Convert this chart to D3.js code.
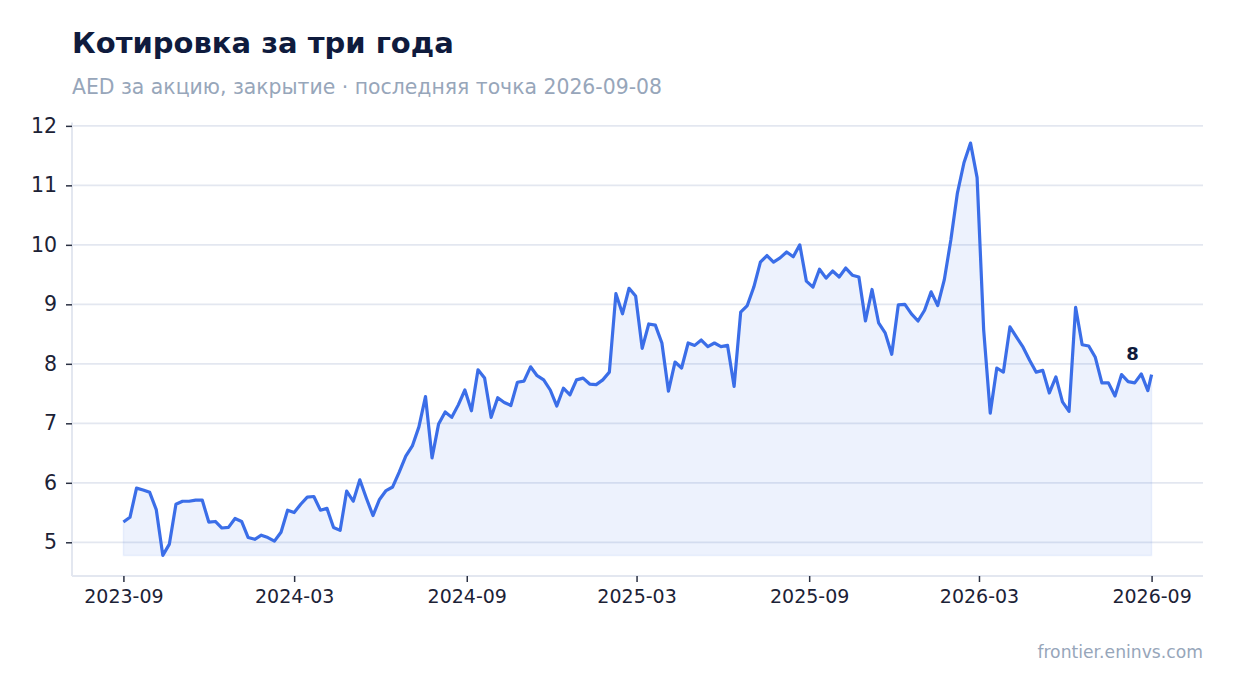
<!DOCTYPE html>
<html>
<head>
<meta charset="utf-8">
<script src="https://cdn.jsdelivr.net/npm/d3@7"></script>
<style>
  body { margin: 0; background: #ffffff; }
</style>
</head>
<body>
<div id="chart"></div>
<script>
// Chart data

var titleText = "Котировка за три года";
var subtitleText = "AED за акцию, закрытие · последняя точка 2026-09-08";
var sourceText = "frontier.eninvs.com";

// weekly closes from the first date, the last one is the final close
var firstDate = "2023-09-08";
var lastDate = "2026-09-08";

var closePrices = [
  5.34, 5.42, 5.91, 5.88, 5.84, 5.55, 4.78, 4.97, 5.64, 5.69,
  5.69, 5.71, 5.71, 5.34, 5.35, 5.24, 5.25, 5.40, 5.35, 5.08,
  5.05, 5.12, 5.08, 5.02, 5.17, 5.54, 5.50, 5.64, 5.76, 5.77,
  5.54, 5.57, 5.25, 5.20, 5.86, 5.69, 6.05, 5.74, 5.45, 5.72,
  5.87, 5.93, 6.18, 6.45, 6.62, 6.94, 7.45, 6.42, 6.99, 7.19,
  7.10, 7.31, 7.56, 7.21, 7.90, 7.76, 7.10, 7.43, 7.35, 7.30,
  7.69, 7.71, 7.95, 7.80, 7.73, 7.56, 7.29, 7.59, 7.48, 7.73,
  7.76, 7.66, 7.65, 7.73, 7.86, 9.18, 8.84, 9.27, 9.14, 8.26,
  8.67, 8.65, 8.35, 7.54, 8.03, 7.93, 8.35, 8.31, 8.40, 8.29,
  8.35, 8.29, 8.31, 7.62, 8.87, 8.98, 9.29, 9.71, 9.82, 9.71,
  9.78, 9.88, 9.80, 10.00, 9.39, 9.29, 9.59, 9.44, 9.56, 9.46,
  9.61, 9.49, 9.46, 8.72, 9.25, 8.69, 8.52, 8.16, 8.99, 9.00,
  8.84, 8.72, 8.90, 9.21, 8.98, 9.41, 10.08, 10.87, 11.38, 11.71,
  11.13, 8.57, 7.17, 7.93, 7.86, 8.62, 8.45, 8.28, 8.06, 7.86,
  7.89, 7.51, 7.78, 7.36, 7.20, 8.95, 8.32, 8.30, 8.11, 7.68,
  7.68, 7.46, 7.82, 7.70, 7.68, 7.83, 7.55, 7.82
];

var yTickValues = [5, 6, 7, 8, 9, 10, 11, 12];
var xTickMonthStep = 6;
var xTickCount = 7;

// Set up the chart

var svgWidth = 1234;
var svgHeight = 693;

var margin = {
  top: 122.5,
  right: 31,
  bottom: 117,
  left: 72
};

var width = svgWidth - margin.left - margin.right;
var height = svgHeight - margin.top - margin.bottom;

var parseDate = d3.timeParse("%Y-%m-%d");
var start = parseDate(firstDate);
var end = parseDate(lastDate);

var dates = d3.timeDay.range(start, end, 7);
dates.push(end);

var priceData = closePrices.map(function(v, i) {
  return { date: dates[i], close: v };
});

var svg = d3.select("#chart")
  .append("svg")
  .attr("width", svgWidth)
  .attr("height", svgHeight)
  .style("font-family", "'DejaVu Sans', sans-serif");

// Titles
svg.append("text")
  .attr("x", 72)
  .attr("y", 53)
  .attr("fill", "#0f1b3d")
  .style("font-size", "29px")
  .style("font-weight", "bold")
  .text(titleText);

svg.append("text")
  .attr("x", 72)
  .attr("y", 94)
  .attr("fill", "#97a6ba")
  .style("font-size", "20.4px")
  .text(subtitleText);

svg.append("text")
  .attr("x", 1203)
  .attr("y", 658)
  .attr("text-anchor", "end")
  .attr("fill", "#97a6ba")
  .style("font-size", "17.2px")
  .text(sourceText);

var chartGroup = svg.append("g")
  .attr("transform", `translate(${margin.left}, ${margin.top})`);

// Scales with 5% padding around the data
var dateSpan = end - start;
var xScale = d3.scaleTime()
  .domain([new Date(+start - dateSpan * 0.05), new Date(+end + dateSpan * 0.05)])
  .range([0, width]);

var minClose = d3.min(closePrices);
var maxClose = d3.max(closePrices);
var pad = (maxClose - minClose) * 0.05;
var yScale = d3.scaleLinear()
  .domain([minClose - pad, maxClose + pad])
  .range([height, 0]);

// Gridlines
chartGroup.selectAll(".grid")
  .data(yTickValues)
  .enter()
  .append("line")
  .attr("class", "grid")
  .attr("x1", 0)
  .attr("x2", width)
  .attr("y1", d => yScale(d))
  .attr("y2", d => yScale(d))
  .attr("stroke", "#e3e7f0")
  .attr("stroke-width", 1.8);

// Frame lines
chartGroup.append("line")
  .attr("x1", 0).attr("x2", 0)
  .attr("y1", 0).attr("y2", height)
  .attr("stroke", "#e3e7f0")
  .attr("stroke-width", 2);

chartGroup.append("line")
  .attr("x1", 0).attr("x2", width)
  .attr("y1", height).attr("y2", height)
  .attr("stroke", "#e3e7f0")
  .attr("stroke-width", 2);

// Axes
var xTickValues = d3.range(xTickCount).map(k => d3.timeMonth.offset(start, k * xTickMonthStep));

var bottomAxis = d3.axisBottom(xScale)
  .tickValues(xTickValues)
  .tickFormat(d3.timeFormat("%Y-%m"))
  .tickSize(6)
  .tickPadding(8);

var leftAxis = d3.axisLeft(yScale)
  .tickValues(yTickValues)
  .tickFormat(d3.format("d"))
  .tickSize(6)
  .tickPadding(9);

var xAxisGroup = chartGroup.append("g")
  .attr("transform", `translate(0, ${height})`)
  .call(bottomAxis);

xAxisGroup.select(".domain").remove();
xAxisGroup.selectAll("line").attr("stroke", "#2a3042").attr("stroke-width", 1.5);
xAxisGroup.selectAll("text")
  .attr("fill", "#1c2236")
  .style("font-size", "19px")
  .style("font-family", "'DejaVu Sans', sans-serif");

var yAxisGroup = chartGroup.append("g")
  .call(leftAxis);

yAxisGroup.select(".domain").remove();
yAxisGroup.selectAll("line").attr("stroke", "#2a3042").attr("stroke-width", 1.5);
yAxisGroup.selectAll("text")
  .attr("fill", "#1c2236")
  .style("font-size", "20.5px")
  .style("font-family", "'DejaVu Sans', sans-serif");

// Area under the line down to the lowest close
var area = d3.area()
  .x(d => xScale(d.date))
  .y0(yScale(minClose))
  .y1(d => yScale(d.close));

chartGroup.append("path")
  .datum(priceData)
  .attr("d", area)
  .attr("fill", "#3b6ee8")
  .attr("fill-opacity", 0.09)
  .attr("stroke", "#3b6ee8")
  .attr("stroke-opacity", 0.08)
  .attr("stroke-width", 1.5);

// Price line
var line = d3.line()
  .x(d => xScale(d.date))
  .y(d => yScale(d.close));

chartGroup.append("path")
  .datum(priceData)
  .attr("d", line)
  .attr("fill", "none")
  .attr("stroke", "#3b6ee8")
  .attr("stroke-width", 3.2)
  .attr("stroke-linejoin", "round");

// Last close label
var lastPoint = priceData[priceData.length - 1];
chartGroup.append("text")
  .attr("x", xScale(lastPoint.date) - 19)
  .attr("y", yScale(lastPoint.close) - 15)
  .attr("text-anchor", "middle")
  .attr("fill", "#0f1b3d")
  .style("font-size", "18px")
  .style("font-weight", "bold")
  .text(d3.format(".0f")(lastPoint.close));
</script>
</body>
</html>
